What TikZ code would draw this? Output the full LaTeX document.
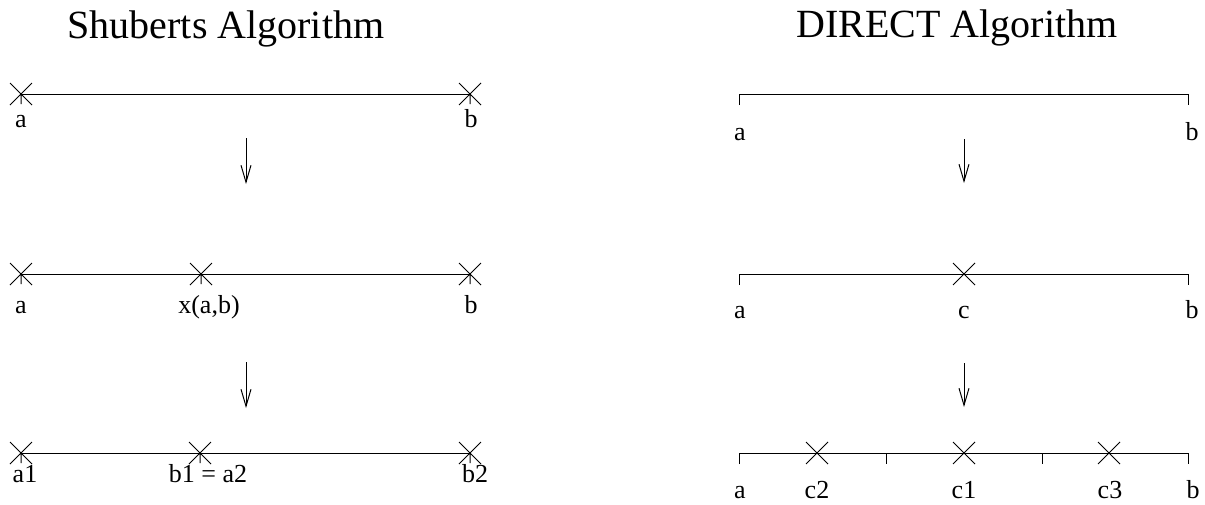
\documentclass[tikz,border=0pt]{standalone}
\usepackage{fontspec}
\setmainfont{Liberation Serif}
\usetikzlibrary{arrows.meta}
\begin{document}
\begin{tikzpicture}[x=1pt,y=-1pt, line width=1pt,
  lbl/.style={anchor=base, inner sep=0pt, font=\fontsize{26}{30}\selectfont},
  ttl/.style={anchor=base, inner sep=0pt, font=\fontsize{40}{48}\selectfont},
  flow/.style={-{Straight Barb[length=17pt,width=10pt]}, line width=1pt},
  xmark/.pic={\draw (-11,-11)--(11,11) (-11,11)--(11,-11);},
  xtick/.pic={\draw (-11,-11)--(11,11) (-11,11)--(11,-11) (0,0)--(0,10);},
]
\useasboundingbox (0,0) rectangle (1205,504);
% titles
\node[ttl] (t1) at (226,38) {Shuberts Algorithm};
\node[ttl] (t2) at (957,37) {DIRECT Algorithm};

% ---------- left: Shubert ----------
% row 1
\coordinate (la1) at (21,94);
\coordinate (lb1) at (470,94);
\draw (la1) -- (lb1);
\pic at (la1) {xtick};
\pic at (lb1) {xtick};
\node[lbl] (la1t) at (21,127) {a};
\node[lbl] (lb1t) at (471,127) {b};
% arrow 1
\coordinate (lar1s) at (246,138);
\coordinate (lar1e) at (246,184);
\draw[flow] (lar1s) -- (lar1e);
% row 2
\coordinate (la2) at (21,274);
\coordinate (lx2) at (201,274);
\coordinate (lb2) at (470,274);
\draw (la2) -- (lb2);
\pic at (la2) {xtick};
\pic at (lx2) {xtick};
\pic at (lb2) {xtick};
\node[lbl] (la2t) at (21,313) {a};
\node[lbl] (lx2t) at (209,313) {x(a,b)};
\node[lbl] (lb2t) at (471,313) {b};
% arrow 2
\coordinate (lar2s) at (246,362);
\coordinate (lar2e) at (246,408);
\draw[flow] (lar2s) -- (lar2e);
% row 3
\coordinate (la3) at (21,453);
\coordinate (lm3) at (200,453);
\coordinate (lb3) at (470,453);
\draw (la3) -- (lb3);
\pic at (la3) {xtick};
\pic at (lm3) {xtick};
\pic at (lb3) {xtick};
\node[lbl] (la3t) at (25,482) {a1};
\node[lbl] (lm3t) at (208,482) {b1 = a2};
\node[lbl] (lb3t) at (475,482) {b2};

% ---------- right: DIRECT ----------
% row 1
\coordinate (ra1) at (739,94);
\coordinate (rb1) at (1188,94);
\coordinate (ra1d) at (739,105);
\coordinate (rb1d) at (1188,105);
\draw (ra1d) -- (ra1) -- (rb1) -- (rb1d);
\node[lbl] (ra1t) at (740,140) {a};
\node[lbl] (rb1t) at (1192,140) {b};
% arrow 1
\coordinate (rar1s) at (964,139);
\coordinate (rar1e) at (964,183);
\draw[flow] (rar1s) -- (rar1e);
% row 2
\coordinate (ra2) at (739,274);
\coordinate (rc2) at (964,274);
\coordinate (rb2) at (1188,274);
\coordinate (ra2d) at (739,285);
\coordinate (rb2d) at (1188,285);
\draw (ra2d) -- (ra2) -- (rb2) -- (rb2d);
\pic at (rc2) {xmark};
\node[lbl] (ra2t) at (740,318) {a};
\node[lbl] (rc2t) at (964,318) {c};
\node[lbl] (rb2t) at (1192,318) {b};
% arrow 2
\coordinate (rar2s) at (964,363);
\coordinate (rar2e) at (964,407);
\draw[flow] (rar2s) -- (rar2e);
% row 3
\coordinate (ra3) at (739,453);
\coordinate (rt13) at (886,453);
\coordinate (rt23) at (1042,453);
\coordinate (rb3) at (1188,453);
\coordinate (ra3d) at (739,464);
\coordinate (rt13d) at (886,464);
\coordinate (rt23d) at (1042,464);
\coordinate (rb3d) at (1188,464);
\coordinate (rc23) at (817,453);
\coordinate (rc13) at (964,453);
\coordinate (rc33) at (1109,453);
\draw (ra3d) -- (ra3) -- (rb3) -- (rb3d);
\draw (rt13) -- (rt13d);
\draw (rt23) -- (rt23d);
\pic at (rc23) {xmark};
\pic at (rc13) {xmark};
\pic at (rc33) {xmark};
\node[lbl] (ra3t) at (740,498) {a};
\node[lbl] (rc23t) at (817,498) {c2};
\node[lbl] (rc13t) at (964,498) {c1};
\node[lbl] (rc33t) at (1110,498) {c3};
\node[lbl] (rb3t) at (1193,498) {b};
\end{tikzpicture}
\end{document}
